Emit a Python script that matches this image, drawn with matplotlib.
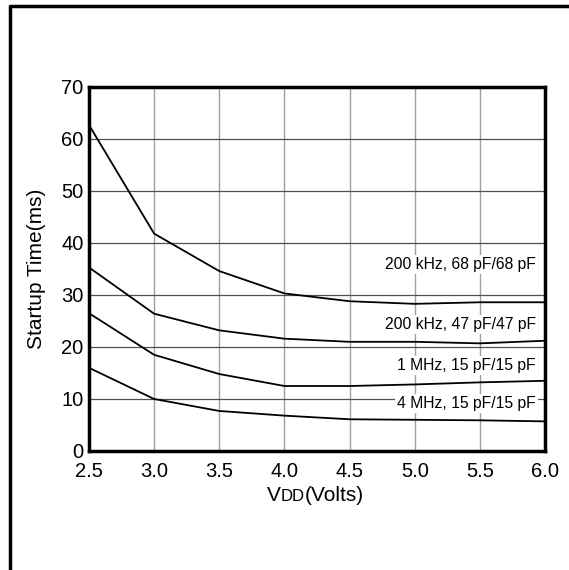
import matplotlib
matplotlib.use("Agg")
import matplotlib.pyplot as plt
from matplotlib.lines import Line2D

plt.rcParams['font.family'] = ['Liberation Sans', 'DejaVu Sans']

vdd = [2.5, 3.0, 3.5, 4.0, 4.5, 5.0, 5.5, 6.0]
t_200k_68 = [62.7, 41.8, 34.6, 30.3, 28.8, 28.3, 28.6, 28.6]
t_200k_47 = [35.3, 26.4, 23.2, 21.6, 21.0, 21.0, 20.7, 21.2]
t_1m_15 = [26.5, 18.5, 14.8, 12.5, 12.5, 12.8, 13.2, 13.5]
t_4m_15 = [16.0, 10.0, 7.7, 6.8, 6.1, 6.0, 5.9, 5.7]

labels = ["200 kHz, 68 pF/68 pF", "200 kHz, 47 pF/47 pF",
          "1 MHz, 15 pF/15 pF", "4 MHz, 15 pF/15 pF"]
label_y = [35.8, 24.4, 16.5, 9.2]

fig = plt.figure(figsize=(5.69, 5.70), dpi=100)
ax = fig.add_axes([89 / 569, 1 - 451 / 570, 456 / 569, 364 / 570])

for series in [t_200k_68, t_200k_47, t_1m_15, t_4m_15]:
    ax.plot(vdd, series, color='black', lw=1.3, zorder=3)

for lab, y in zip(labels, label_y):
    ax.text(5.93, y, lab, ha='right', va='center', fontsize=11.3, zorder=4,
            bbox=dict(facecolor='white', edgecolor='none', pad=1.5))

ax.set_xlim(2.5, 6.0)
ax.set_ylim(0, 70)
ax.set_xticks(vdd)
ax.set_xticklabels([f"{v:.1f}" for v in vdd])
ax.set_yticks(range(0, 71, 10))
ax.xaxis.grid(True, color='#a0a0a0', lw=1.0)
ax.yaxis.grid(True, color='#505050', lw=0.9)
ax.set_axisbelow(True)
ax.tick_params(length=0, labelsize=14.5)
ax.tick_params(axis='x', pad=8)
ax.tick_params(axis='y', pad=4)
for s in ax.spines.values():
    s.set_linewidth(2.5)

ax.set_ylabel("Startup Time(ms)", fontsize=15)
ax.yaxis.set_label_coords(-43 / 456, 0.5)

# x label: "V" + smaller "DD" + "(Volts)"
fig.canvas.draw()
r = fig.canvas.get_renderer()
ybase = 1 - 501 / 570
x0 = 267 / 569
t1 = fig.text(x0, ybase, "V", fontsize=15, ha='left', va='baseline')
w1 = t1.get_window_extent(r).width / 569
t2 = fig.text(x0 + w1, ybase, "DD", fontsize=12, ha='left', va='baseline')
w2 = t2.get_window_extent(r).width / 569
fig.text(x0 + w1 + w2, ybase, "(Volts)", fontsize=15, ha='left', va='baseline')

# page frame
fig.add_artist(Line2D([10 / 569, 10 / 569], [0, 1 - 5 / 570], color='black',
                      lw=2.5, solid_capstyle='butt'))
fig.add_artist(Line2D([9 / 569, 1], [1 - 6 / 570, 1 - 6 / 570], color='black',
                      lw=2.5, solid_capstyle='butt'))

fig.savefig("out.png", dpi=100)
